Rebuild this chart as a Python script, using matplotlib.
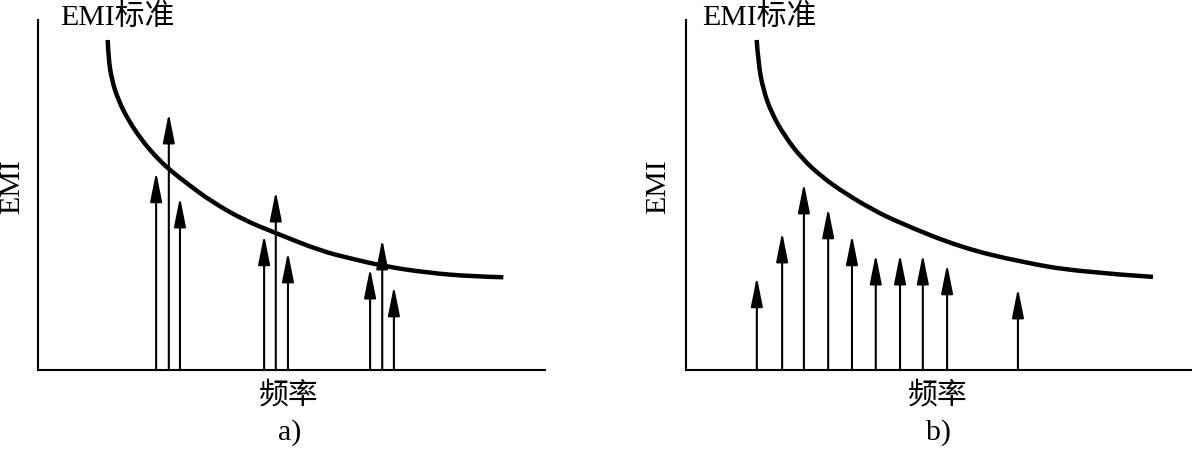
import matplotlib
matplotlib.use("Agg")
import matplotlib.pyplot as plt
from matplotlib.path import Path
from matplotlib.patches import PathPatch

plt.rcParams['font.family'] = ['Liberation Serif', 'Noto Sans CJK SC', 'DejaVu Sans']

# ---- data (arbitrary units: frequency 0..100, EMI 0..100) ----
# panel a) : three clusters of harmonics
a_freq = [23.3, 25.8, 28.0, 44.6, 46.9, 49.3, 65.5, 67.9, 70.2]
a_emi = [56.6, 73.4, 49.4, 38.6, 51.1, 33.7, 29.1, 37.4, 24.0]
a_limit_freq = [13.75, 13.87, 14.54, 15.84, 17.81, 20.45, 23.08, 25.70, 29.65,
                34.26, 40.49, 46.94, 55.62, 61.54, 68.11, 76.67, 85.86, 91.78]
a_limit_emi = [94.3, 89.5, 82.9, 77.1, 71.4, 65.7, 61.2, 57.5, 53.0,
               48.1, 42.9, 39.1, 34.1, 31.9, 29.7, 27.8, 26.7, 26.5]

# panel b) : spread-spectrum harmonics
b_freq = [14.0, 19.0, 23.3, 28.1, 32.8, 37.5, 42.3, 46.8, 51.6, 65.6]
b_emi = [26.6, 39.4, 53.4, 46.3, 38.6, 33.1, 33.1, 33.1, 30.3, 23.4]
b_limit_freq = [13.97, 14.29, 15.28, 16.94, 19.57, 22.87, 26.82, 31.42, 37.02,
                42.29, 54.15, 66.01, 77.87, 92.29]
b_limit_emi = [94.3, 87.6, 80.0, 73.3, 66.7, 60.5, 55.2, 50.5, 45.7,
               42.0, 35.1, 30.9, 28.0, 26.6]

limit_label = "EMI标准"
x_label = "频率"
y_label = "EMI"
panel_labels = ["a)", "b)"]

W, H = 1192, 450
fig = plt.figure(figsize=(W / 100, H / 100), dpi=100)

FS = 21.5


def make_axes(x0, x1):
    ax = fig.add_axes([x0 / W, (H - 370) / H, (x1 - x0) / W, 350 / H])
    ax.set_xlim(0, 100)
    ax.set_ylim(0, 100)
    for s in ['top', 'right']:
        ax.spines[s].set_visible(False)
    for s in ['left', 'bottom']:
        ax.spines[s].set_linewidth(1.5)
        ax.spines[s].set_color('black')
    ax.set_xticks([])
    ax.set_yticks([])
    ax.patch.set_alpha(0)
    return ax


def smooth_path(xs, ys):
    # quadratic Bezier chain: read points act as control points
    pts = list(zip(xs, ys))
    verts = [pts[0]]
    codes = [Path.MOVETO]
    for i in range(1, len(pts) - 1):
        p, q = pts[i], pts[i + 1]
        end = pts[-1] if i == len(pts) - 2 else ((p[0] + q[0]) / 2, (p[1] + q[1]) / 2)
        verts += [p, end]
        codes += [Path.CURVE3, Path.CURVE3]
    return Path(verts, codes)


def draw_panel(ax, freq, emi, lf, le):
    patch = PathPatch(smooth_path(lf, le), facecolor='none', edgecolor='black',
                      lw=3.2, capstyle='butt', joinstyle='round', clip_on=False)
    ax.add_patch(patch)
    for f, e in zip(freq, emi):
        ax.annotate('', xy=(f, e), xytext=(f, 0),
                    arrowprops=dict(arrowstyle='-|>,head_length=1.8,head_width=0.36',
                                    color='black', lw=1.5, shrinkA=0, shrinkB=0,
                                    mutation_scale=10))


ax_a = make_axes(38, 545)
draw_panel(ax_a, a_freq, a_emi, a_limit_freq, a_limit_emi)
ax_b = make_axes(686, 1192)
draw_panel(ax_b, b_freq, b_emi, b_limit_freq, b_limit_emi)

# texts (positions in pixels)
for lx, ylx, cx in [(60, 12, 289), (702, 658, 938)]:
    fig.text(lx / W, (H - 17) / H, limit_label, fontsize=FS, ha='left', va='center')
    fig.text(ylx / W, (H - 187) / H, y_label, fontsize=FS, rotation=90,
             ha='center', va='center')
    fig.text(cx / W, (H - 396) / H, x_label, fontsize=FS, ha='center', va='center')

fig.text(290 / W, (H - 433) / H, panel_labels[0], fontsize=FS, ha='center', va='center')
fig.text(938 / W, (H - 433) / H, panel_labels[1], fontsize=FS, ha='center', va='center')

fig.savefig('out.png', dpi=100, facecolor='white')
